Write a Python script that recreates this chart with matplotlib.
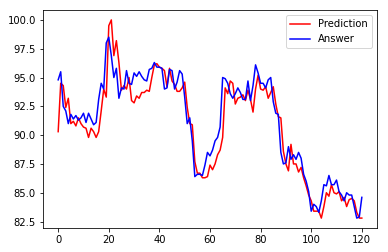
import matplotlib
matplotlib.use("Agg")
import matplotlib.pyplot as plt
import numpy as np

prediction = [
    90.3, 94.5, 94.3, 92.4, 93.2, 91.0, 91.2, 90.8, 91.5, 91.0,
    90.7, 90.6, 89.8, 90.6, 90.3, 89.8, 90.3, 92.1, 94.0, 93.3,
    99.5, 100.0, 96.9, 98.2, 96.3, 93.9, 94.3, 94.0, 95.0, 93.0,
    92.8, 93.4, 93.2, 93.7, 93.7, 93.9, 93.8, 95.0, 96.1, 96.2,
    95.9, 95.8, 95.6, 94.2, 95.8, 94.7, 94.4, 93.8, 93.8, 94.1,
    94.6, 92.4, 91.0, 90.9, 87.7, 86.7, 86.7, 86.3, 86.3, 86.4,
    87.4, 87.0, 87.5, 88.3, 88.7, 89.8, 94.1, 93.6, 94.7, 94.5,
    92.7, 93.2, 93.3, 93.5, 93.0, 93.9, 93.1, 92.0, 94.0, 95.2,
    94.0, 93.9, 94.2, 93.2, 93.7, 94.2, 92.7, 91.6, 91.5, 88.6,
    87.5, 86.9, 89.2, 87.5, 87.5, 86.8, 87.2, 86.3, 85.6, 84.8,
    84.3, 83.4, 83.4, 83.4, 82.8, 83.8, 85.0, 84.7, 85.7, 85.0,
    84.9, 85.1, 84.3, 84.6, 83.8, 84.4, 84.5, 84.3, 83.3, 82.8,
    82.8,
]

answer = [
    94.8, 95.5, 92.5, 92.1, 91.0, 91.8, 91.4, 91.7, 91.3, 91.5,
    91.9, 91.1, 91.9, 91.4, 90.9, 91.1, 93.1, 94.5, 94.0, 98.0,
    98.5, 96.9, 95.0, 95.8, 93.2, 94.1, 94.0, 95.6, 94.5, 94.4,
    95.4, 95.1, 95.5, 95.1, 94.8, 94.7, 95.7, 95.8, 96.3, 95.9,
    95.9, 95.8, 94.0, 94.1, 95.7, 95.6, 94.0, 94.6, 95.6, 95.3,
    93.3, 91.0, 91.5, 89.5, 86.4, 86.6, 86.6, 86.5, 87.4, 88.5,
    88.2, 88.7, 89.5, 89.8, 90.7, 95.0, 94.9, 94.5, 93.6, 93.2,
    93.6, 94.1, 93.7, 93.1, 93.1, 94.7, 93.0, 94.3, 96.1, 95.4,
    94.5, 94.5, 94.1, 94.8, 95.0, 92.9, 91.9, 91.8, 88.5, 87.5,
    87.6, 89.0, 87.9, 88.3, 87.9, 88.5, 88.0, 86.6, 86.0, 85.1,
    83.4, 84.0, 83.8, 83.3, 84.3, 85.7, 85.6, 86.5, 85.7, 85.7,
    86.1, 85.1, 84.8, 84.3, 85.0, 84.8, 84.8, 83.8, 82.8, 82.9,
    84.6,
]

x = np.arange(len(prediction))

fig = plt.figure(figsize=(388 / 72, 252 / 72), dpi=72)
ax = fig.add_axes([43 / 388, 1 - 228 / 252, (377 - 43) / 388, (228 - 10) / 252])
ax.plot(x, prediction, color="red", label="Prediction")
ax.plot(x, answer, color="blue", label="Answer")
ax.legend(loc="upper right")
fig.savefig("out.png", dpi=72)
